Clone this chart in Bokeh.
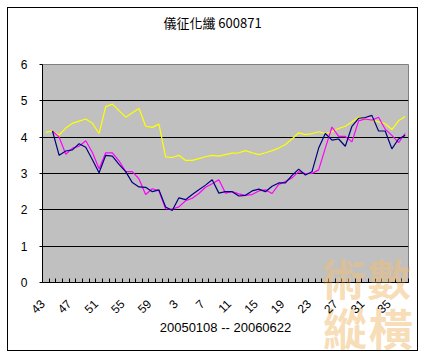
import math
import urllib.parse
from bokeh.plotting import figure
from bokeh.models import Range1d, FixedTicker, LinearAxis, Label
from bokeh.embed import file_html
from bokeh.resources import INLINE

nan = float("nan")

title_text = "儀征化纖 600871"
x_title = "20050108 -- 20060622"

periods = ["43", "44", "45", "46", "47", "48", "49", "50", "51", "52", "53", "54",
           "55", "56", "57", "58", "59", "0", "1", "2", "3", "4", "5", "6", "7", "8",
           "9", "10", "11", "12", "13", "14", "15", "16", "17", "18", "19", "20", "21",
           "22", "23", "24", "25", "26", "27", "28", "29", "30", "31", "32", "33", "34",
           "35", "36", "37"]

yellow = [4.13, 4.17, 4.06, 4.25, 4.38, 4.44, 4.50, 4.38, 4.10, 4.84,
          4.91, 4.73, 4.55, 4.67, 4.79, 4.30, 4.27, 4.36, 3.46, 3.44,
          3.50, 3.36, 3.36, 3.41, 3.46, 3.50, 3.48, 3.52, 3.56, 3.57,
          3.63, 3.57, 3.52, 3.57, 3.63, 3.70, 3.80, 3.95, 4.12, 4.07,
          4.10, 4.15, 4.10, 4.15, 4.24, 4.30, 4.42, 4.55, 4.50, 4.47,
          4.42, 4.37, 4.21, 4.45, 4.57]

navy = [nan, 4.17, 3.50, 3.62, 3.65, 3.82, 3.72, 3.38, 3.02, 3.50,
        3.48, 3.25, 3.05, 2.75, 2.63, 2.62, 2.50, 2.55, 2.08, 1.98,
        2.33, 2.28, 2.42, 2.55, 2.68, 2.83, 2.46, 2.50, 2.50, 2.38,
        2.40, 2.52, 2.57, 2.50, 2.65, 2.74, 2.74, 2.95, 3.12, 2.96,
        3.05, 3.70, 4.10, 3.92, 3.95, 3.75, 4.30, 4.52, 4.54, 4.60,
        4.17, 4.17, 3.68, 3.95, 4.05]

magenta = [nan, 4.17, 4.00, 3.53, 3.70, 3.75, 3.90, 3.58, 3.13, 3.57,
           3.57, 3.35, 3.05, 3.05, 2.85, 2.42, 2.58, 2.52, 2.03, 2.02,
           2.08, 2.25, 2.32, 2.45, 2.62, 2.72, 2.83, 2.46, 2.50, 2.44,
           2.40, 2.42, 2.52, 2.55, 2.45, 2.70, 2.78, 2.88, 3.05, 3.00,
           3.00, 3.10, 3.70, 4.28, 4.02, 4.02, 3.87, 4.45, 4.50, 4.47,
           4.55, 4.22, 4.05, 3.85, 4.10]

y_ticks = [0, 1, 2, 3, 4, 5, 6]
watermark = ["術", "數", "縱", "橫"]

n = len(periods)
xs = list(range(n))
label_idx = list(range(0, n, 4))
# each category label sits at the tick mark on its left-hand boundary
label_pos = [i - 0.5 for i in label_idx]

# watermark (site logo) placement in page pixels
wm_xy = [(343, 277), (389, 277), (345, 327), (391, 327)]
wm_color = "#f0bf7a"
wm_alpha = 0.55
wm_size = 44

svg_parts = ['<svg xmlns="http://www.w3.org/2000/svg" width="425" height="358">']
for ch, (wx, wy) in zip(watermark, wm_xy):
    svg_parts.append(
        f'<text x="{wx}" y="{wy}" font-family="Noto Sans CJK TC" font-weight="bold" '
        f'font-size="{wm_size}" fill="{wm_color}" fill-opacity="{wm_alpha}" '
        f'text-anchor="middle" dominant-baseline="central">{ch}</text>')
svg_parts.append('</svg>')
wm_url = "data:image/svg+xml;charset=utf-8," + urllib.parse.quote("".join(svg_parts))

p = figure(width=425, height=358, x_range=Range1d(-0.5, n - 0.5), y_range=Range1d(0, 6),
           output_backend="svg", toolbar_location=None,
           min_border_left=42, min_border_right=17, min_border_top=64, min_border_bottom=76)
p.background_fill_color = "#c0c0c0"
p.border_fill_color = None
p.styles = {"background-color": "white",
            "background-image": f'url("{wm_url}")',
            "background-repeat": "no-repeat",
            "outline": "1px solid black", "outline-offset": "-8px"}
p.outline_line_color = "#808080"
p.title.visible = False

# chart title, carried by a bare top axis so that its distance from the plot is exact;
# two trailing ideographic spaces move the centred title left as in the original
top_axis = LinearAxis(ticker=FixedTicker(ticks=[]), axis_line_color=None,
                      major_tick_line_color=None, minor_tick_line_color=None,
                      major_tick_out=0, major_tick_in=0, minor_tick_out=0, minor_tick_in=0,
                      major_label_standoff=0, major_label_text_font_size="0px",
                      axis_label=title_text + "\u3000\u3000", axis_label_standoff=33,
                      axis_label_text_font="Noto Sans CJK TC",
                      axis_label_text_font_size="13px",
                      axis_label_text_font_style="normal",
                      axis_label_text_color="black")
p.add_layout(top_axis, "above")

p.xgrid.visible = False
p.ygrid.ticker = FixedTicker(ticks=[1, 2, 3, 4, 5])
p.ygrid.grid_line_color = "black"
p.ygrid.grid_line_width = 1

p.yaxis.ticker = FixedTicker(ticks=y_ticks)
p.yaxis.axis_line_color = "black"
p.yaxis.major_tick_out = 3
p.yaxis.major_tick_in = 0
p.yaxis.minor_tick_line_color = None
p.yaxis.major_label_standoff = 12
p.yaxis.major_label_text_font = "Liberation Sans"
p.yaxis.major_label_text_font_size = "12px"
p.yaxis.major_label_text_color = "black"

xaxis = p.below[0]
xaxis.ticker = FixedTicker(ticks=label_pos, minor_ticks=[i - 0.5 for i in range(n + 1)])
xaxis.major_label_overrides = {pos: periods[i] for pos, i in zip(label_pos, label_idx)}
xaxis.major_label_orientation = math.pi / 4
xaxis.major_label_standoff = 19
xaxis.major_label_text_font = "Liberation Sans"
xaxis.major_label_text_font_size = "12px"
xaxis.major_label_text_color = "black"
xaxis.axis_line_color = "black"
xaxis.major_tick_line_color = None
xaxis.major_tick_out = 0
xaxis.major_tick_in = 0
xaxis.minor_tick_in = 4
xaxis.minor_tick_out = 0
xaxis.minor_tick_line_color = "black"
xaxis.axis_label = x_title
xaxis.axis_label_standoff = 0
xaxis.axis_label_text_font = "Liberation Sans"
xaxis.axis_label_text_font_size = "13px"
xaxis.axis_label_text_font_style = "normal"
xaxis.axis_label_text_color = "black"

p.line(xs, yellow, line_color="#ffff00", line_width=1.2)
p.line(xs, magenta, line_color="#ff00ff", line_width=1.2)
p.line(xs, navy, line_color="#000080", line_width=1.2)

# the part of the watermark that lies over the plot area
for ch, (wx, wy) in zip(watermark, wm_xy):
    p.add_layout(Label(x=wx, y=wy, x_units="canvas", y_units="canvas", text=ch,
                       text_align="center", text_baseline="middle",
                       text_font="Noto Sans CJK TC", text_font_style="bold",
                       text_font_size=f"{wm_size}px", text_color=wm_color,
                       text_alpha=wm_alpha))

open("out.html", "w").write(file_html(p, INLINE))
